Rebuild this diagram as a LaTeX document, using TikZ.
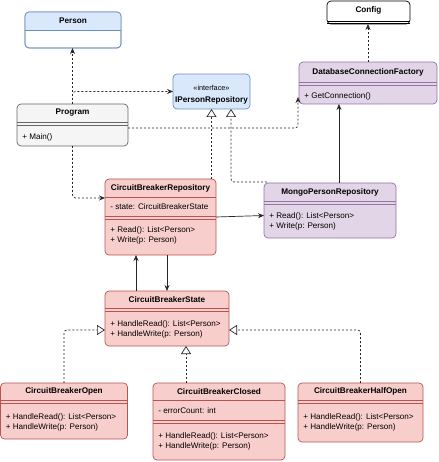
\documentclass[tikz,border=0pt]{standalone}
\usepackage{fontspec}
\setmainfont{Liberation Sans}
\usetikzlibrary{arrows.meta,calc}

\definecolor{redfill}{HTML}{F8CECC}
\definecolor{redline}{HTML}{B85450}
\definecolor{bluefill}{HTML}{DAE8FC}
\definecolor{blueline}{HTML}{6C8EBF}
\definecolor{purplefill}{HTML}{E1D5E7}
\definecolor{purpleline}{HTML}{9673A6}
\definecolor{grayfill}{HTML}{F5F5F5}
\definecolor{grayline}{HTML}{666666}

\tikzset{
	cls/.style={draw, rounded corners=4pt, anchor=north west, inner sep=0pt, outer sep=0pt},
	redcls/.style={cls, fill=redfill, draw=redline},
	purplecls/.style={cls, fill=purplefill, draw=purpleline},
	title/.style={font=\bfseries\fontsize{8.2}{9}\selectfont, inner sep=0pt},
	members/.style={anchor=west, align=left, inner sep=0pt, font=\fontsize{8.1}{10}\selectfont},
	dep/.style={draw=black!85, dash pattern=on 2pt off 2pt, rounded corners=3pt, -{Stealth[length=6pt,width=5pt]}},
	real/.style={draw=black!85, dash pattern=on 2pt off 2pt, rounded corners=3pt, -{Triangle[open,length=8pt,width=10pt,fill=white]}},
	assoc/.style={draw=black!85, -{Stealth[length=6pt,width=5pt]}},
}

\begin{document}
\begin{tikzpicture}[x=1pt, y=-1pt, line width=0.7pt]
	\useasboundingbox (0,0) rectangle (438,462);

	% classes
	\node[cls, fill=white, draw=blueline, minimum width=96pt, minimum height=36pt] (person) at (25,12) {};
	\begin{scope}
		\clip (25,12) rectangle (121,30);
		\fill[bluefill, rounded corners=4pt] (person.north west) rectangle (person.south east);
	\end{scope}
	\draw[blueline, rounded corners=4pt] (person.north west) rectangle (person.south east);
	\draw[blueline] ($(person.north west)+(0,18)$) -- ++(96,0);
	\node[title] (personT) at ($(person.north)+(0,9)$) {Person};

	\node[cls, fill=white, draw=black, minimum width=83pt, minimum height=23pt] (config) at (327,1) {};
	\draw ($(config.north west)+(0,20)$) -- ++(83,0);
	\draw ($(config.north west)+(0,22)$) -- ++(83,0);
	\node[title] (configT) at ($(config.north)+(0,9.5)$) {Config};

	\node[cls, fill=grayfill, draw=grayline, minimum width=111pt, minimum height=42pt] (program) at (17,104) {};
	\draw[grayline] ($(program.north west)+(0,18)$) -- ++(111,0);
	\draw[grayline] ($(program.north west)+(0,21)$) -- ++(111,0);
	\node[title] (programT) at ($(program.north)+(0,9)$) {Program};
	\node[members] (programM) at ($(program.north west)+(5,33)$) {+ Main()};

	\node[cls, fill=bluefill, draw=blueline, minimum width=77pt, minimum height=35pt] (iperson) at (173,74) {};
	\node[inner sep=0pt, font=\fontsize{7.3}{8}\selectfont] (ipersonS) at ($(iperson.north)+(0,14)$) {«interface»};
	\node[title] (ipersonT) at ($(iperson.north)+(0,26)$) {IPersonRepository};

	\node[purplecls, minimum width=138pt, minimum height=42pt] (dbfactory) at (299,62) {};
	\draw[purpleline] ($(dbfactory.north west)+(0,20)$) -- ++(138,0);
	\draw[purpleline] ($(dbfactory.north west)+(0,23)$) -- ++(138,0);
	\node[title] (dbfactoryT) at ($(dbfactory.north)+(0,10)$) {DatabaseConnectionFactory};
	\node[members] (dbfactoryM) at ($(dbfactory.north west)+(5,34)$) {+ GetConnection()};

	\node[redcls, minimum width=111pt, minimum height=76pt] (cbrepo) at (105,179) {};
	\draw[redline] ($(cbrepo.north west)+(0,18)$) -- ++(111,0);
	\draw[redline] ($(cbrepo.north west)+(0,37)$) -- ++(111,0);
	\draw[redline] ($(cbrepo.north west)+(0,40)$) -- ++(111,0);
	\node[title] (cbrepoT) at ($(cbrepo.north)+(0,9)$) {CircuitBreakerRepository};
	\node[members] (cbrepoF) at ($(cbrepo.north west)+(5,28)$) {- state: CircuitBreakerState};
	\node[members] (cbrepoM) at ($(cbrepo.north west)+(5,56)$) {+ Read(): List<Person>\\+ Write(p: Person)};

	\node[purplecls, minimum width=132pt, minimum height=55pt] (mongo) at (264,183) {};
	\draw[purpleline] ($(mongo.north west)+(0,18)$) -- ++(132,0);
	\draw[purpleline] ($(mongo.north west)+(0,21)$) -- ++(132,0);
	\node[title] (mongoT) at ($(mongo.north)+(0,9)$) {MongoPersonRepository};
	\node[members] (mongoM) at ($(mongo.north west)+(5,38)$) {+ Read(): List<Person>\\+ Write(p: Person)};

	\node[redcls, minimum width=124pt, minimum height=55pt] (cbstate) at (105,291) {};
	\draw[redline] ($(cbstate.north west)+(0,17)$) -- ++(124,0);
	\draw[redline] ($(cbstate.north west)+(0,20)$) -- ++(124,0);
	\node[title] (cbstateT) at ($(cbstate.north)+(0,8.5)$) {CircuitBreakerState};
	\node[members] (cbstateM) at ($(cbstate.north west)+(5,38)$) {+ HandleRead(): List<Person>\\+ HandleWrite(p: Person)};

	\node[redcls, minimum width=127pt, minimum height=56pt] (cbopen) at (0.5,383) {};
	\draw[redline] ($(cbopen.north west)+(0,17)$) -- ++(127,0);
	\draw[redline] ($(cbopen.north west)+(0,20)$) -- ++(127,0);
	\node[title] (cbopenT) at ($(cbopen.north)+(0,8.5)$) {CircuitBreakerOpen};
	\node[members] (cbopenM) at ($(cbopen.north west)+(5,39)$) {+ HandleRead(): List<Person>\\+ HandleWrite(p: Person)};

	\node[redcls, minimum width=132pt, minimum height=77pt] (cbclosed) at (153,383) {};
	\draw[redline] ($(cbclosed.north west)+(0,17)$) -- ++(132,0);
	\draw[redline] ($(cbclosed.north west)+(0,37)$) -- ++(132,0);
	\draw[redline] ($(cbclosed.north west)+(0,40)$) -- ++(132,0);
	\node[title] (cbclosedT) at ($(cbclosed.north)+(0,8.5)$) {CircuitBreakerClosed};
	\node[members] (cbclosedF) at ($(cbclosed.north west)+(5,28)$) {- errorCount: int};
	\node[members] (cbclosedM) at ($(cbclosed.north west)+(5,58)$) {+ HandleRead(): List<Person>\\+ HandleWrite(p: Person)};

	\node[redcls, minimum width=125pt, minimum height=59pt] (cbhalf) at (298,383) {};
	\draw[redline] ($(cbhalf.north west)+(0,17)$) -- ++(125,0);
	\draw[redline] ($(cbhalf.north west)+(0,20)$) -- ++(125,0);
	\node[title] (cbhalfT) at ($(cbhalf.north)+(0,8.5)$) {CircuitBreakerHalfOpen};
	\node[members] (cbhalfM) at ($(cbhalf.north west)+(5,39)$) {+ HandleRead(): List<Person>\\+ HandleWrite(p: Person)};

	% connectors
	\coordinate (progR) at ($(program.east)+(0,3)$);
	\coordinate (dbIn) at ($(dbfactory.west)+(-1,14)$);
	\coordinate (repoIn) at ($(cbrepo.north west)+(0,19)$);
	\coordinate (ipRight) at ($(iperson.south)+(19.5,0)$);
	\coordinate (mongoIn) at ($(mongo.north west)+(3,-1)$);
	\coordinate (mongoUp) at ($(mongo.north)+(9,0)$);
	\coordinate (mongoL) at ($(mongo.west)+(0,5)$);
	\coordinate (repoDown) at ($(cbrepo.south west)+(31,0)$);
	\coordinate (stateL) at ($(cbstate.west)+(0,11.5)$);
	\coordinate (stateR) at ($(cbstate.east)+(0,11.5)$);
	\coordinate (stateB) at ($(cbstate.south west)+(81,0)$);

	\draw[dep] (program.north) -- (program.north |- person.south);
	\draw[dep] (program.north) |- (iperson.west);
	\draw[dep] (progR) -| (dbIn);
	\draw[dep] (program.south) |- (repoIn);
	\draw[dep] (dbfactory.north) -- (dbfactory.north |- config.south);

	\draw[real] (iperson.south |- cbrepo.north) -- (iperson.south);
	\draw[real] (mongoIn) -| (ipRight);

	\draw[assoc] (mongoUp) -- (mongoUp |- dbfactory.south);
	\draw[assoc] (cbrepo.east) -- (mongoL);
	\draw[assoc] (repoDown |- cbstate.north) -- (repoDown);
	\draw[assoc] (cbstate.north |- cbrepo.south) -- (cbstate.north);

	\draw[real] (cbopen.north) |- (stateL);
	\draw[real] (cbhalf.north) |- (stateR);
	\draw[real] (stateB |- cbclosed.north) -- (stateB);
\end{tikzpicture}
\end{document}
